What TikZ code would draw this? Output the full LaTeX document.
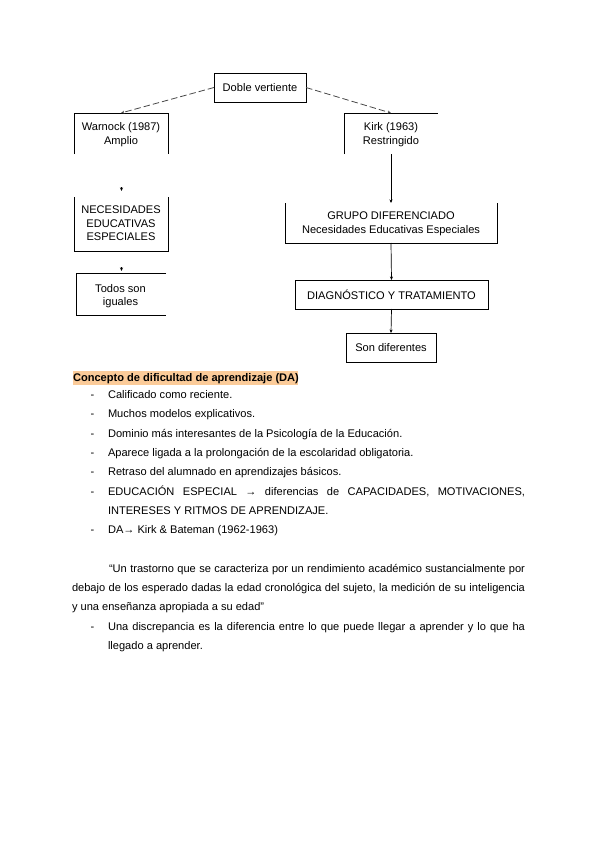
\documentclass[tikz,border=0pt]{standalone}
\usepackage{fontspec}
\setmainfont{Liberation Sans}
\usetikzlibrary{arrows.meta}
\definecolor{peach}{RGB}{251,203,153}
\definecolor{lnc}{RGB}{70,70,70}
\newcommand{\bodyfont}{\fontsize{11.08pt}{13.3pt}\selectfont}
\begin{document}
\begin{tikzpicture}[x=1pt,y=-1pt,
  every node/.style={font=\bodyfont, inner sep=0pt, outer sep=0pt},
  bx/.style={align=center},
  framed/.style={draw=black, line width=0.8pt},
  edge/.style={draw=black, line width=0.8pt},
  dashc/.style={draw=lnc, line width=0.8pt, dash pattern=on 6.5pt off 3pt, -{Stealth[length=3.5pt,width=3pt]}},
  solc/.style={draw=black, line width=0.7pt, -{Stealth[length=3.5pt,width=3pt]}},
  ln/.style={anchor=base west},
  hd/.style={anchor=base west, font={\bodyfont\bfseries}}
]
\useasboundingbox (0,0) rectangle (600,848);

% ---------- diagram ----------
\node[framed, minimum width=92pt, minimum height=29pt] (dv) at (260,87.5) {Doble vertiente};

\node[bx, minimum width=94pt, minimum height=41pt] (wa) at (121,133.5) {};
\node[bx] (wat) at (121,134.7) {Warnock (1987)\\Amplio};
\draw[edge] (wa.south west) -- (wa.north west) -- (wa.north east) -- (wa.south east);

\node[bx, minimum width=94pt, minimum height=41pt] (ki) at (391,133.5) {};
\node[bx] (kit) at (391,134.7) {Kirk (1963)\\Restringido};
\draw[edge] (ki.south west) -- (ki.north west) -- (ki.north east);

\node[bx, minimum width=94pt, minimum height=54pt] (ne) at (121,224) {};
\node[bx] (net) at (121,223.3) {NECESIDADES\\EDUCATIVAS\\ESPECIALES};
\draw[edge] (ne.north west) -- (ne.south west) -- (ne.south east) -- (ne.north east);

\node[bx, minimum width=90pt, minimum height=42pt] (to) at (121,294) {};
\node[bx] (tot) at (120.5,296) {Todos son\\iguales};
\draw[edge] (to.north east) -- (to.north west) -- (to.south west) -- (to.south east);

\node[bx, minimum width=212pt, minimum height=40pt] (gr) at (391,223) {};
\node[bx] (grt) at (391,223.8) {GRUPO DIFERENCIADO\\Necesidades Educativas Especiales};
\draw[edge] (gr.north west) -- (gr.south west) -- (gr.south east) -- (gr.north east);

\node[framed, minimum width=193pt, minimum height=29pt] (dg) at (391.5,294.5) {DIAGN\'OSTICO Y TRATAMIENTO};

\node[framed, minimum width=90pt, minimum height=29pt] (sd) at (391,347.5) {Son diferentes};

% connectors
\draw[dashc] (dv.west) -- (wa.north);
\draw[dashc] (dv.east) -- (ki.north);
\draw[solc] (ki.south) -- (gr.north);
\draw[solc] (gr.south) -- (dg.north);
\draw[solc] (dg.south) -- (sd.north);
\coordinate (t1) at (121.5,187);
\coordinate (h1) at (121.5,191);
\draw[solc] (t1) -- (h1);
\coordinate (t2) at (121.5,267);
\coordinate (h2) at (121.5,271);
\draw[solc] (t2) -- (h2);

% ---------- text ----------
\fill[peach] (73,371) rectangle (298,384.5);
\node[hd] (head) at (73,381) {Concepto de dificultad de aprendizaje (DA)};

\node[ln] (d1) at (90.5,398.5) {-};
\node[ln] (i1) at (108,398.5) {Calificado como reciente.};
\node[ln] (d2) at (90.5,417.8) {-};
\node[ln] (i2) at (108,417.8) {Muchos modelos explicativos.};
\node[ln] (d3) at (90.5,437.1) {-};
\node[ln] (i3) at (108,437.1) {Dominio más interesantes de la Psicología de la Educación.};
\node[ln] (d4) at (90.5,456.4) {-};
\node[ln] (i4) at (108,456.4) {Aparece ligada a la prolongación de la escolaridad obligatoria.};
\node[ln] (d5) at (90.5,475.7) {-};
\node[ln] (i5) at (108,475.7) {Retraso del alumnado en aprendizajes básicos.};
\node[ln] (d6) at (90.5,495) {-};
\node[ln] (i6) at (108,495) {\makebox[417pt][s]{EDUCACIÓN ESPECIAL → diferencias de CAPACIDADES, MOTIVACIONES,}};
\node[ln] (i6b) at (108,514.3) {INTERESES Y RITMOS DE APRENDIZAJE.};
\node[ln] (d7) at (90.5,533.6) {-};
\node[ln] (i7) at (108,533.6) {DA→ Kirk \& Bateman (1962-1963)};

\node[ln] (q1) at (109,572.3) {\makebox[416pt][s]{“Un trastorno que se caracteriza por un rendimiento académico sustancialmente por}};
\node[ln] (q2) at (72,591.7) {\makebox[453pt][s]{debajo de los esperado dadas la edad cronológica del sujeto, la medición de su inteligencia}};
\node[ln] (q3) at (72,610.7) {y una enseñanza apropiada a su edad"};

\node[ln] (d8) at (90.5,630) {-};
\node[ln] (u1) at (108,630) {\makebox[417pt][s]{Una discrepancia es la diferencia entre lo que puede llegar a aprender y lo que ha}};
\node[ln] (u2) at (108,649) {llegado a aprender.};
\end{tikzpicture}
\end{document}
